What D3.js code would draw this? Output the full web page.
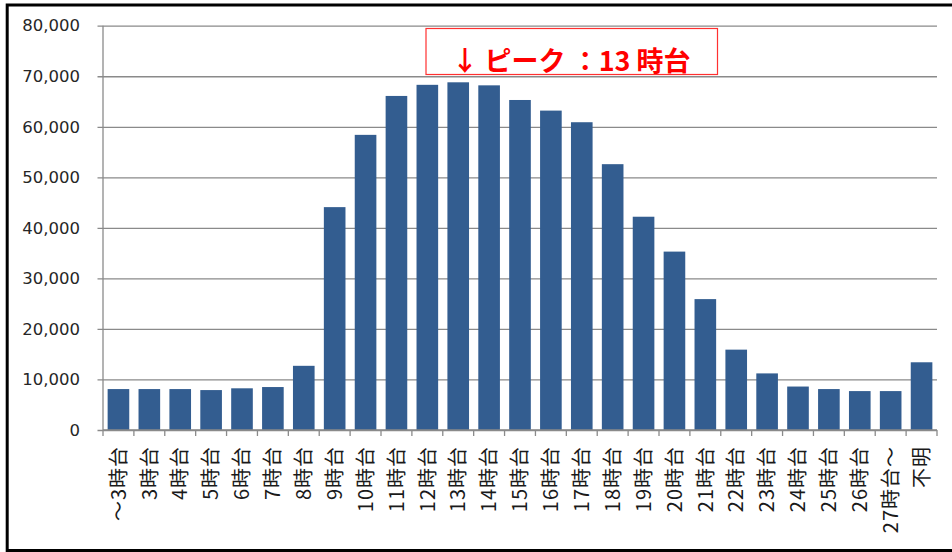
<!DOCTYPE html>
<html><head><meta charset="utf-8">
<script src="https://cdn.jsdelivr.net/npm/d3@7"></script>
<style>html,body{margin:0;padding:0;background:#fff;}svg{display:block;}</style>
</head><body>
<svg id="chart" width="952" height="552"></svg>
<script>
const categories = ["～3時台","3時台","4時台","5時台","6時台","7時台","8時台","9時台","10時台","11時台","12時台","13時台","14時台","15時台","16時台","17時台","18時台","19時台","20時台","21時台","22時台","23時台","24時台","25時台","26時台","27時台～","不明"];
const counts = [8100,8100,8100,7900,8250,8500,12700,44100,58400,66100,68300,68800,68200,65300,63200,60900,52600,42200,35300,25900,15900,11200,8600,8100,7700,7700,13400];
const yTicks = [0,10000,20000,30000,40000,50000,60000,70000,80000];
const annotationText = "↓ ピーク ：13 時台";

(function(){
const svg = d3.select("#chart");
const pLeft = 103, pRight = 937, pTop = 25.7, pBottom = 430;

const x = d3.scaleBand().domain(categories).range([pLeft, pRight]).paddingInner(0.3).paddingOuter(0.15);
const y = d3.scaleLinear().domain([0, 80000]).range([pBottom, pTop]);

// frame
svg.append("rect").attr("x",7.2).attr("y",5).attr("width",1000).attr("height",545.5)
  .attr("fill","none").attr("stroke","#000").attr("stroke-width",3);

// gridlines + y labels
const yAxis = d3.axisLeft(y).tickValues(yTicks).tickSize(-(pRight-pLeft)).tickFormat(d3.format(","));
const gy = svg.append("g").attr("transform",`translate(${pLeft},0)`).call(yAxis);
gy.select(".domain").remove();
gy.selectAll(".tick line").attr("stroke","#8a8a8a").attr("stroke-width",1.3).attr("x1",-5.5);
gy.selectAll(".tick text").attr("x",-23).attr("fill","#262626")
  .style("font-family","'DejaVu Sans', sans-serif").style("font-size","16.5px");

// y axis line
svg.append("line").attr("x1",pLeft).attr("x2",pLeft).attr("y1",y(80000)).attr("y2",pBottom)
  .attr("stroke","#8a8a8a").attr("stroke-width",1.3);

// bars
svg.append("g").selectAll("rect").data(counts).join("rect")
  .attr("x",(d,i)=>x(categories[i]))
  .attr("width",x.bandwidth())
  .attr("y",d=>y(d))
  .attr("height",d=>pBottom - y(d))
  .attr("fill","#335d90");

// x axis: ticks at category boundaries
const step = x.step();
const boundaries = d3.range(categories.length+1).map(i=>pLeft + i*step);
const gx = svg.append("g");
gx.append("line").attr("x1",pLeft).attr("x2",pRight).attr("y1",pBottom).attr("y2",pBottom)
  .attr("stroke","#8a8a8a").attr("stroke-width",1.3);
gx.selectAll("line.tk").data(boundaries).join("line").attr("class","tk")
  .attr("x1",d=>d).attr("x2",d=>d).attr("y1",pBottom).attr("y2",pBottom+6)
  .attr("stroke","#8a8a8a").attr("stroke-width",1.3);
gx.selectAll("text").data(categories).join("text")
  .attr("transform",d=>`translate(${x(d)+x.bandwidth()/2},446) rotate(-90)`)
  .attr("text-anchor","end").attr("dy","0.36em")
  .attr("fill","#1a1a1a")
  .style("font-family","'Noto Sans CJK JP', sans-serif").style("font-size","20px")
  .style("letter-spacing","1px")
  .text(d=>d);

// annotation
svg.append("rect").attr("x",426).attr("y",28.5).attr("width",291.5).attr("height",46)
  .attr("fill","#fff").attr("stroke","#ff3030").attr("stroke-width",1.2);
svg.append("text").attr("x",571).attr("y",70.5).attr("text-anchor","middle")
  .attr("fill","#ff0000").style("font-family","'Noto Sans CJK JP', sans-serif")
  .style("font-size","27px").style("font-weight","bold").text(annotationText);
})();
</script>
</body></html>
